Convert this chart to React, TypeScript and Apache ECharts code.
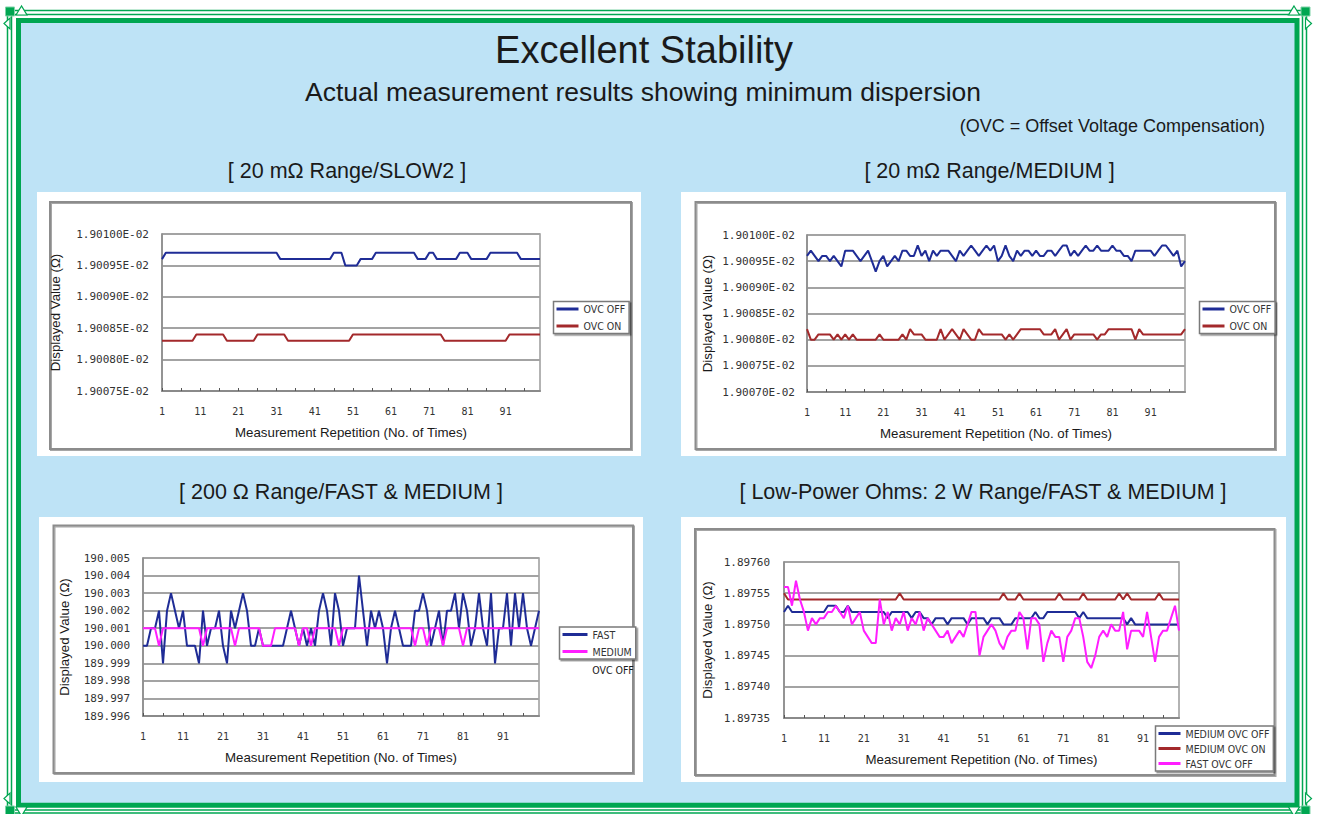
import React, { useEffect, useRef } from "react";
import * as echarts from "echarts";

// ---------------- categories ----------------
const repetitions: string[] = Array.from({ length: 100 }, (_, i) => String(i + 1));

// ---------------- [ 20 mΩ Range/SLOW2 ]  (values × 1E-02 Ω) ----------------
const slow2OvcOff: number[] = [
  1.90096, 1.90097, 1.90097, 1.90097, 1.90097, 1.90097, 1.90097, 1.90097, 1.90097, 1.90097,
  1.90097, 1.90097, 1.90097, 1.90097, 1.90097, 1.90097, 1.90097, 1.90097, 1.90097, 1.90097,
  1.90097, 1.90097, 1.90097, 1.90097, 1.90097, 1.90097, 1.90097, 1.90097, 1.90097, 1.90097,
  1.90097, 1.90096, 1.90096, 1.90096, 1.90096, 1.90096, 1.90096, 1.90096, 1.90096, 1.90096,
  1.90096, 1.90096, 1.90096, 1.90096, 1.90096, 1.90097, 1.90097, 1.90097, 1.90095, 1.90095,
  1.90095, 1.90095, 1.90096, 1.90096, 1.90096, 1.90096, 1.90097, 1.90097, 1.90097, 1.90097,
  1.90097, 1.90097, 1.90097, 1.90097, 1.90097, 1.90097, 1.90097, 1.90096, 1.90096, 1.90096,
  1.90097, 1.90097, 1.90096, 1.90096, 1.90096, 1.90096, 1.90096, 1.90096, 1.90097, 1.90097,
  1.90097, 1.90096, 1.90096, 1.90096, 1.90096, 1.90096, 1.90097, 1.90097, 1.90097, 1.90097,
  1.90097, 1.90097, 1.90097, 1.90097, 1.90096, 1.90096, 1.90096, 1.90096, 1.90096, 1.90096,
];
const slow2OvcOn: number[] = [
  1.90083, 1.90083, 1.90083, 1.90083, 1.90083, 1.90083, 1.90083, 1.90083, 1.90083, 1.90084,
  1.90084, 1.90084, 1.90084, 1.90084, 1.90084, 1.90084, 1.90084, 1.90083, 1.90083, 1.90083,
  1.90083, 1.90083, 1.90083, 1.90083, 1.90083, 1.90084, 1.90084, 1.90084, 1.90084, 1.90084,
  1.90084, 1.90084, 1.90084, 1.90083, 1.90083, 1.90083, 1.90083, 1.90083, 1.90083, 1.90083,
  1.90083, 1.90083, 1.90083, 1.90083, 1.90083, 1.90083, 1.90083, 1.90083, 1.90083, 1.90083,
  1.90084, 1.90084, 1.90084, 1.90084, 1.90084, 1.90084, 1.90084, 1.90084, 1.90084, 1.90084,
  1.90084, 1.90084, 1.90084, 1.90084, 1.90084, 1.90084, 1.90084, 1.90084, 1.90084, 1.90084,
  1.90084, 1.90084, 1.90084, 1.90084, 1.90083, 1.90083, 1.90083, 1.90083, 1.90083, 1.90083,
  1.90083, 1.90083, 1.90083, 1.90083, 1.90083, 1.90083, 1.90083, 1.90083, 1.90083, 1.90083,
  1.90083, 1.90084, 1.90084, 1.90084, 1.90084, 1.90084, 1.90084, 1.90084, 1.90084, 1.90084,
];
const slow2Axis = { min: 1.90075, max: 1.901, step: 0.00005 };

// ---------------- [ 20 mΩ Range/MEDIUM ]  (values × 1E-02 Ω) ----------------
const mediumOvcOff: number[] = [
  1.90096, 1.90097, 1.90096, 1.90095, 1.90096, 1.90096, 1.90095, 1.90096, 1.90095, 1.90094,
  1.90097, 1.90097, 1.90097, 1.90096, 1.90095, 1.90096, 1.90097, 1.90095, 1.90093, 1.90095,
  1.90096, 1.90094, 1.90095, 1.90096, 1.90095, 1.90097, 1.90097, 1.90096, 1.90096, 1.90098,
  1.90096, 1.90097, 1.90095, 1.90097, 1.90096, 1.90097, 1.90097, 1.90097, 1.90096, 1.90095,
  1.90097, 1.90096, 1.90097, 1.90098, 1.90097, 1.90096, 1.90097, 1.90098, 1.90097, 1.90098,
  1.90095, 1.90096, 1.90098, 1.90096, 1.90095, 1.90097, 1.90096, 1.90097, 1.90097, 1.90096,
  1.90097, 1.90096, 1.90096, 1.90097, 1.90097, 1.90096, 1.90097, 1.90098, 1.90098, 1.90096,
  1.90097, 1.90096, 1.90097, 1.90098, 1.90097, 1.90097, 1.90098, 1.90097, 1.90097, 1.90097,
  1.90098, 1.90097, 1.90097, 1.90096, 1.90096, 1.90095, 1.90097, 1.90097, 1.90097, 1.90097,
  1.90097, 1.90096, 1.90097, 1.90098, 1.90098, 1.90097, 1.90096, 1.90097, 1.90094, 1.90095,
];
const mediumOvcOn: number[] = [
  1.90082, 1.9008, 1.9008, 1.90081, 1.90081, 1.90081, 1.90081, 1.9008, 1.90081, 1.9008,
  1.90081, 1.9008, 1.90081, 1.9008, 1.9008, 1.9008, 1.9008, 1.9008, 1.9008, 1.90081,
  1.9008, 1.9008, 1.9008, 1.9008, 1.9008, 1.90081, 1.9008, 1.90082, 1.90081, 1.90081,
  1.90081, 1.9008, 1.9008, 1.9008, 1.9008, 1.90082, 1.9008, 1.90081, 1.90082, 1.90081,
  1.9008, 1.90082, 1.90081, 1.9008, 1.9008, 1.90082, 1.90081, 1.90081, 1.90081, 1.90081,
  1.90081, 1.90081, 1.9008, 1.90081, 1.9008, 1.90081, 1.90082, 1.90082, 1.90082, 1.90082,
  1.90082, 1.90082, 1.90081, 1.90081, 1.90081, 1.90082, 1.9008, 1.90081, 1.90082, 1.9008,
  1.90081, 1.90081, 1.90081, 1.90081, 1.90081, 1.90081, 1.9008, 1.90081, 1.90081, 1.90082,
  1.90082, 1.90082, 1.90082, 1.90082, 1.90082, 1.90082, 1.9008, 1.90082, 1.90081, 1.90081,
  1.90081, 1.90081, 1.90081, 1.90081, 1.90081, 1.90081, 1.90081, 1.90081, 1.90081, 1.90082,
];
const mediumAxis = { min: 1.9007, max: 1.901, step: 0.00005 };

// ---------------- [ 200 Ω Range/FAST & MEDIUM ]  (Ω) ----------------
const r200Fast: number[] = [
  190.0, 190.0, 190.001, 190.001, 190.002, 189.999, 190.002, 190.003, 190.002, 190.001,
  190.002, 190.0, 190.0, 190.0, 189.999, 190.002, 190.0, 190.001, 190.001, 190.002,
  190.0, 189.999, 190.002, 190.001, 190.002, 190.003, 190.002, 190.0, 190.0, 190.001,
  190.0, 190.0, 190.0, 190.0, 190.0, 190.0, 190.001, 190.002, 190.001, 190.0,
  190.001, 190.0, 190.001, 190.0, 190.002, 190.003, 190.002, 190.0, 190.003, 190.002,
  190.0, 190.001, 190.001, 190.001, 190.004, 190.002, 190.0, 190.002, 190.001, 190.002,
  190.001, 189.999, 190.001, 190.002, 190.001, 190.0, 190.0, 190.0, 190.002, 190.002,
  190.003, 190.002, 190.0, 190.001, 190.002, 190.0, 190.002, 190.002, 190.003, 190.001,
  190.003, 190.002, 190.0, 190.001, 190.003, 190.001, 190.0, 190.003, 189.999, 190.001,
  190.001, 190.003, 190.0, 190.003, 190.001, 190.003, 190.001, 190.0, 190.001, 190.002,
];
const r200Medium: number[] = [
  190.001, 190.001, 190.001, 190.001, 190.0, 190.001, 190.001, 190.001, 190.001, 190.001,
  190.001, 190.001, 190.001, 190.001, 190.001, 190.0, 190.001, 190.001, 190.001, 190.001,
  190.001, 190.001, 190.001, 190.0, 190.001, 190.001, 190.001, 190.001, 190.001, 190.001,
  190.0, 190.0, 190.0, 190.001, 190.001, 190.001, 190.001, 190.001, 190.001, 190.0,
  190.001, 190.001, 190.0, 190.001, 190.001, 190.001, 190.001, 190.001, 190.001, 190.0,
  190.001, 190.001, 190.001, 190.001, 190.001, 190.001, 190.001, 190.001, 190.001, 190.001,
  190.001, 190.001, 190.001, 190.001, 190.001, 190.001, 190.001, 190.001, 190.0, 190.001,
  190.001, 190.0, 190.001, 190.001, 190.001, 190.0, 190.001, 190.001, 190.001, 190.001,
  190.0, 190.001, 190.001, 190.001, 190.001, 190.001, 190.001, 190.001, 190.001, 190.001,
  190.001, 190.001, 190.001, 190.001, 190.001, 190.001, 190.001, 190.001, 190.001, 190.001,
];
const r200Axis = { min: 189.996, max: 190.005, step: 0.001 };

// ---------------- [ Low-Power Ohms: 2 W Range/FAST & MEDIUM ]  (Ω) ----------------
const lpMediumOvcOff: number[] = [
  1.89752, 1.89753, 1.89752, 1.89752, 1.89752, 1.89752, 1.89752, 1.89752, 1.89752, 1.89752,
  1.89752, 1.89753, 1.89753, 1.89753, 1.89752, 1.89752, 1.89753, 1.89752, 1.89752, 1.89752,
  1.89752, 1.89752, 1.89752, 1.89752, 1.89752, 1.89752, 1.89751, 1.89752, 1.89752, 1.89752,
  1.89752, 1.89752, 1.89751, 1.89752, 1.89752, 1.89751, 1.89751, 1.8975, 1.89751, 1.89751,
  1.89751, 1.8975, 1.89751, 1.89751, 1.89751, 1.89751, 1.8975, 1.89751, 1.89751, 1.89751,
  1.89751, 1.8975, 1.89751, 1.89751, 1.89751, 1.8975, 1.8975, 1.8975, 1.89751, 1.89751,
  1.89751, 1.89751, 1.89751, 1.89752, 1.89751, 1.89751, 1.89752, 1.89752, 1.89752, 1.89752,
  1.89752, 1.89752, 1.89752, 1.89752, 1.89751, 1.89752, 1.89751, 1.89751, 1.89751, 1.89751,
  1.89751, 1.89751, 1.89751, 1.89751, 1.89751, 1.89751, 1.8975, 1.89751, 1.8975, 1.8975,
  1.8975, 1.8975, 1.8975, 1.8975, 1.8975, 1.8975, 1.8975, 1.8975, 1.8975, 1.8975,
];
const lpMediumOvcOn: number[] = [
  1.89755, 1.89754, 1.89754, 1.89754, 1.89754, 1.89754, 1.89754, 1.89754, 1.89754, 1.89754,
  1.89754, 1.89754, 1.89754, 1.89754, 1.89754, 1.89754, 1.89754, 1.89754, 1.89754, 1.89754,
  1.89754, 1.89754, 1.89754, 1.89754, 1.89754, 1.89754, 1.89754, 1.89754, 1.89754, 1.89755,
  1.89754, 1.89754, 1.89754, 1.89754, 1.89754, 1.89754, 1.89754, 1.89754, 1.89754, 1.89754,
  1.89754, 1.89754, 1.89754, 1.89754, 1.89754, 1.89754, 1.89754, 1.89754, 1.89754, 1.89754,
  1.89754, 1.89754, 1.89754, 1.89754, 1.89754, 1.89755, 1.89754, 1.89754, 1.89754, 1.89755,
  1.89754, 1.89754, 1.89754, 1.89754, 1.89754, 1.89754, 1.89754, 1.89754, 1.89754, 1.89755,
  1.89754, 1.89754, 1.89754, 1.89754, 1.89754, 1.89755, 1.89754, 1.89754, 1.89754, 1.89754,
  1.89754, 1.89754, 1.89754, 1.89754, 1.89755, 1.89754, 1.89755, 1.89754, 1.89754, 1.89754,
  1.89754, 1.89754, 1.89754, 1.89754, 1.89755, 1.89754, 1.89754, 1.89754, 1.89754, 1.89754,
];
const lpFastOvcOff: number[] = [
  1.89756, 1.89756, 1.89753, 1.89757, 1.89754, 1.89752, 1.89749, 1.89751, 1.8975, 1.89751,
  1.89751, 1.89752, 1.89752, 1.89753, 1.89752, 1.89751, 1.89753, 1.8975, 1.89751, 1.89752,
  1.89749, 1.89748, 1.89747, 1.89747, 1.89754, 1.8975, 1.89752, 1.89749, 1.89751, 1.8975,
  1.89752, 1.89749, 1.89751, 1.8975, 1.89752, 1.89749, 1.89751, 1.8975, 1.89749, 1.89748,
  1.89748, 1.89749, 1.89747, 1.89748, 1.89749, 1.89748, 1.8975, 1.89752, 1.89752, 1.89745,
  1.89748, 1.89749, 1.8975, 1.89749, 1.89747, 1.89746, 1.89748, 1.89749, 1.89749, 1.89752,
  1.89751, 1.89746, 1.89751, 1.89751, 1.8975, 1.89744, 1.89747, 1.89749, 1.89748, 1.89748,
  1.89744, 1.89748, 1.89749, 1.89751, 1.89751, 1.89748, 1.89744, 1.89743, 1.89745, 1.89748,
  1.89749, 1.89748, 1.8975, 1.89749, 1.89749, 1.89752, 1.89746, 1.89749, 1.89749, 1.89749,
  1.89748, 1.89752, 1.89748, 1.89744, 1.89748, 1.89749, 1.89749, 1.89751, 1.89753, 1.89749,
];
const lpAxis = { min: 1.89735, max: 1.8976, step: 0.00005 };

// ---------------- texts ----------------
const mainTitle = "Excellent Stability";
const subTitle = "Actual measurement results showing minimum dispersion";
const ovcNote = "(OVC = Offset Voltage Compensation)";
const panelTitles = [
  "[ 20 mΩ Range/SLOW2 ]",
  "[ 20 mΩ Range/MEDIUM ]",
  "[ 200 Ω Range/FAST & MEDIUM ]",
  "[ Low-Power Ohms: 2 W Range/FAST & MEDIUM ]",
];
const X_NAME = "Measurement Repetition (No. of Times)";
const Y_NAME = "Displayed Value (Ω)";

// ---------------- styling ----------------
const FONT = '"Liberation Sans", Arial, Helvetica, sans-serif';
const TICK_FONT = '"DejaVu Sans Mono", "Liberation Mono", monospace';
const NARROW = '"Liberation Sans Narrow", "DejaVu Sans Condensed", "Liberation Sans", sans-serif';
const GREEN = "#00A651";
const SKY = "#BEE3F6";
const NAVY = "#1F2C96";
const BRICK = "#A3292B";
const MAGENTA = "#FF1EFF";
const TEXT = "#1a1a1a";

const fmtE02 = (v: number) => v.toFixed(5) + "E-02";
const fmt3 = (v: number) => v.toFixed(3);
const fmt5 = (v: number) => v.toFixed(5);

function buildOption() {
  const grids = [
    { left: 162, top: 234, width: 378, height: 157 },
    { left: 807, top: 235, width: 378, height: 157 },
    { left: 143, top: 558, width: 396, height: 158 },
    { left: 784, top: 562, width: 395, height: 156 },
  ].map((g) => ({ ...g, show: true, borderColor: "#9a9a9a", borderWidth: 1.5, backgroundColor: "transparent" }));

  const xAxisFor = (i: number) => ({
    type: "category",
    gridIndex: i,
    data: repetitions,
    boundaryGap: false,
    axisLine: { show: true, lineStyle: { color: "#8a8a8a", width: 2 } },
    axisTick: { show: true, inside: true, length: 3, interval: 4, lineStyle: { color: "#555", width: 1 } },
    axisLabel: { interval: 9, margin: 15, fontSize: 10, fontFamily: TICK_FONT, color: "#333" },
    splitLine: { show: false },
    name: X_NAME,
    nameLocation: "middle",
    nameGap: 35,
    nameTextStyle: { fontFamily: FONT, fontSize: 13.3, color: TEXT },
  });

  const yAxisFor = (
    i: number,
    range: { min: number; max: number; step: number },
    fmt: (v: number) => string,
    labelMargin: number,
    nameGap: number
  ) => ({
    type: "value",
    gridIndex: i,
    min: range.min,
    max: range.max,
    interval: range.step,
    axisLine: { show: true, lineStyle: { color: "#8a8a8a", width: 1.5 } },
    axisTick: { show: false },
    axisLabel: { margin: labelMargin, fontSize: 11, fontFamily: TICK_FONT, color: "#333", formatter: fmt },
    splitLine: { show: true, lineStyle: { color: "#a3a3a3", width: 2 } },
    name: Y_NAME,
    nameLocation: "middle",
    nameGap,
    nameTextStyle: { fontFamily: FONT, fontSize: 13.3, color: TEXT },
  });

  const line = (name: string, idx: number, data: number[], color: string, width = 2) => ({
    type: "line",
    name,
    xAxisIndex: idx,
    yAxisIndex: idx,
    data,
    symbol: "none",
    showSymbol: false,
    itemStyle: { color },
    lineStyle: { color, width },
    z: 3,
  });

  const legendCommon = {
    orient: "vertical",
    backgroundColor: "#fff",
    borderColor: "#7a7a7a",
    borderWidth: 1.5,
    padding: [2, 4, 2, 3],
    itemGap: 6,
    itemWidth: 22,
    itemHeight: 3,
    icon: "rect",
    selectedMode: false,
    textStyle: { fontFamily: NARROW, fontSize: 10.5, color: "#333" },
    shadowColor: "rgba(0,0,0,0.45)",
    shadowOffsetX: 1.5,
    shadowOffsetY: 1.5,
    shadowBlur: 0,
    z: 6,
  };

  const rect = (x: number, y: number, w: number, h: number, style: any, z = -10) => ({
    type: "rect",
    z,
    silent: true,
    shape: { x, y, width: w, height: h },
    style,
  });

  const text = (t: string, x: number, y: number, size: number, align = "center", family = FONT) => ({
    type: "text",
    z: 20,
    silent: true,
    x,
    y,
    style: { text: t, fill: TEXT, fontSize: size, fontFamily: family, align, verticalAlign: "middle" },
  });

  const corner = (fx: (x: number) => number, fy: (y: number) => number) => [
    rect(Math.min(fx(5.5), fx(14.5)), Math.min(fy(7), fy(16)), 9, 9, { fill: GREEN, stroke: "#7fd3a8", lineWidth: 1 }, -17),
    {
      type: "polygon",
      z: -17,
      silent: true,
      shape: { points: [[fx(21.5), fy(6)], [fx(16), fy(15)], [fx(27), fy(15)]] },
      style: { fill: "#fff", stroke: GREEN, lineWidth: 1.2 },
    },
    {
      type: "polygon",
      z: -17,
      silent: true,
      shape: { points: [[fx(4), fy(23.5)], [fx(10), fy(18)], [fx(10), fy(29)]] },
      style: { fill: "#fff", stroke: GREEN, lineWidth: 1.2 },
    },
  ];
  const id = (v: number) => v;
  const mx = (x: number) => 1315.5 - x;
  const my = (y: number) => 822 - y;

  const innerFrame = { fill: "none", stroke: "#8c8c8c", lineWidth: 2, shadowColor: "rgba(0,0,0,0.35)", shadowOffsetX: 1, shadowOffsetY: 1, shadowBlur: 1 };

  const graphics = [
    rect(21, 23, 1275, 780, { fill: SKY }, -20),
    rect(18.5, 20.5, 1278.5, 784.8, { fill: "none", stroke: GREEN, lineWidth: 5 }, -19),
    rect(11.5, 14.5, 1291, 795.5, { fill: "none", stroke: GREEN, lineWidth: 1.5 }, -19),
    rect(7.5, 10.5, 1299, 802.5, { fill: "none", stroke: GREEN, lineWidth: 1.5 }, -19),
    ...corner(id, id),
    ...corner(mx, id),
    ...corner(id, my),
    ...corner(mx, my),
    // white panels
    rect(37, 192, 604, 264, { fill: "#fff" }, -15),
    rect(681, 192, 605, 264, { fill: "#fff" }, -15),
    rect(39, 517, 604, 265, { fill: "#fff" }, -15),
    rect(681, 517, 605, 265, { fill: "#fff" }, -15),
    // chart-area frames
    rect(50, 202, 581, 247, innerFrame, -14),
    rect(695.5, 202, 579.5, 247, innerFrame, -14),
    rect(53.5, 525.5, 579.5, 247.5, innerFrame, -14),
    rect(695, 529, 579.5, 246, innerFrame, -14),
    // header texts
    text(mainTitle, 644, 50, 38),
    text(subTitle, 643, 92, 26.5),
    text(ovcNote, 1265, 126, 18, "right"),
    text(panelTitles[0], 347, 171, 21.5),
    text(panelTitles[1], 989.5, 171, 21.5),
    text(panelTitles[2], 341, 492, 21.5),
    text(panelTitles[3], 983, 492, 21.5),
    text("OVC OFF", 613, 670, 10.5, "center", NARROW),
  ];

  return {
    animation: false,
    backgroundColor: "#ffffff",
    grid: grids,
    xAxis: [0, 1, 2, 3].map(xAxisFor),
    yAxis: [
      yAxisFor(0, slow2Axis, fmtE02, 13, 100),
      yAxisFor(1, mediumAxis, fmtE02, 12, 93),
      yAxisFor(2, r200Axis, fmt3, 13, 72),
      yAxisFor(3, lpAxis, fmt5, 14, 70),
    ],
    legend: [
      { ...legendCommon, left: 553.5, top: 301.5, data: ["OVC OFF", "OVC ON"] },
      { ...legendCommon, left: 1199.5, top: 301.5, data: ["OVC OFF", "OVC ON"] },
      { ...legendCommon, left: 559.5, top: 627, itemWidth: 25, data: ["FAST", "MEDIUM"] },
      { ...legendCommon, left: 1155.5, top: 726, itemGap: 4, data: ["MEDIUM OVC OFF", "MEDIUM OVC ON", "FAST OVC OFF"] },
    ],
    series: [
      line("OVC OFF", 0, slow2OvcOff, NAVY),
      line("OVC ON", 0, slow2OvcOn, BRICK),
      line("OVC OFF", 1, mediumOvcOff, NAVY),
      line("OVC ON", 1, mediumOvcOn, BRICK),
      line("FAST", 2, r200Fast, NAVY),
      line("MEDIUM", 2, r200Medium, MAGENTA),
      line("MEDIUM OVC OFF", 3, lpMediumOvcOff, NAVY),
      line("MEDIUM OVC ON", 3, lpMediumOvcOn, BRICK),
      line("FAST OVC OFF", 3, lpFastOvcOff, MAGENTA),
    ],
    graphic: { elements: graphics },
  };
}

export default function App() {
  const ref = useRef<HTMLDivElement>(null);
  useEffect(() => {
    if (!ref.current) return;
    const chart = echarts.init(ref.current, null, { renderer: "svg" });
    chart.setOption(buildOption() as any);
    return () => {
      chart.dispose();
    };
  }, []);
  return (
    <div
      ref={ref}
      style={{ position: "fixed", left: 0, top: 0, width: 1318, height: 814, background: "#fff" }}
    />
  );
}
